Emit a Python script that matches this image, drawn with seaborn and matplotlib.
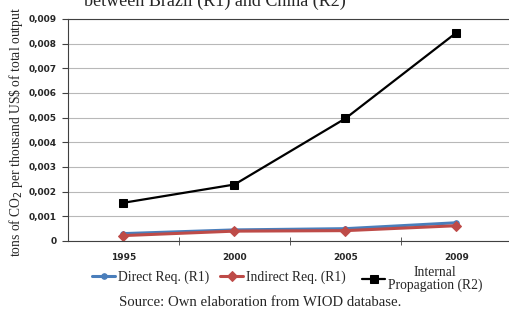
import numpy as np
import pandas as pd
import seaborn as sns
import matplotlib.pyplot as plt
from matplotlib.ticker import FixedLocator, FuncFormatter

years = ["1995", "2000", "2005", "2009"]
direct_r1 = [0.00030, 0.00045, 0.00050, 0.00074]
indirect_r1 = [0.00022, 0.00040, 0.00042, 0.00062]
internal_r2 = [0.00155, 0.00229, 0.00497, 0.00845]
series_names = ["Direct Req. (R1)", "Indirect Req. (R1)", "Internal\nPropagation (R2)"]
y_ticks = [0, 0.001, 0.002, 0.003, 0.004, 0.005, 0.006, 0.007, 0.008, 0.009]

df = pd.DataFrame({
    "year": years * 3,
    "value": direct_r1 + indirect_r1 + internal_r2,
    "series": np.repeat(series_names, len(years)),
})

sns.set_style("white")
plt.rcParams['font.family'] = ['Liberation Serif', 'DejaVu Serif']

fig = plt.figure(figsize=(5.1, 3.15), dpi=100)
ax = fig.add_axes([68 / 510, 1 - 241 / 315, 444 / 510, 222 / 315])

palette = {series_names[0]: "#4a7ebb", series_names[1]: "#be4b48", series_names[2]: "#000000"}
markers = {series_names[0]: "o", series_names[1]: "D", series_names[2]: "s"}
widths = {series_names[0]: 2.2, series_names[1]: 2.2, series_names[2]: 1.6}
msizes = {series_names[0]: 4, series_names[1]: 5.5, series_names[2]: 6}

for name in series_names:
    sub = df[df["series"] == name]
    sns.lineplot(data=sub, x="year", y="value", color=palette[name], marker=markers[name],
                 markersize=msizes[name], linewidth=widths[name],
                 markeredgecolor=palette[name], label=name, ax=ax, sort=False)

ax.set_xlim(-0.5, 3.5)
ax.set_ylim(0, 0.009)
ax.yaxis.set_major_locator(FixedLocator(y_ticks))
ax.yaxis.set_major_formatter(FuncFormatter(lambda v, p: "0" if v == 0 else ("%.3f" % v).replace(".", ",")))
ax.grid(axis="y", color="#b8b8b8", linewidth=0.8)
ax.set_axisbelow(True)
ax.spines["right"].set_visible(False)
for s in ["top", "left", "bottom"]:
    ax.spines[s].set_color("#404040")
ax.tick_params(axis="y", which="major", length=4, direction="out", left=True, color="#404040",
               labelsize=6.5, pad=4)
ax.tick_params(axis="x", which="major", length=0, labelsize=6.5, pad=9)
ax.xaxis.set_minor_locator(FixedLocator([0.5, 1.5, 2.5]))
ax.tick_params(axis="x", which="minor", length=6, direction="inout", bottom=True, color="#404040")
for lab in ax.get_xticklabels() + ax.get_yticklabels():
    lab.set_family("DejaVu Sans")
    lab.set_fontweight("bold")
ax.set_xlabel("")
ax.set_ylabel("tons of CO$_2$ per thousand US\\$ of total output", fontsize=9.8)
ax.yaxis.set_label_coords(-0.097, 0.49)

handles, labels = ax.get_legend_handles_labels()
ax.get_legend().remove()
# one legend per entry, placed where each one sits in the source figure
anchors = [(92, 277), (220, 277), (362, 279)]
for h, l, (x0, y0) in zip(handles, labels, anchors):
    leg = fig.legend([h], [l], loc="center left", bbox_to_anchor=(x0 / 510, 1 - y0 / 315),
                     frameon=False, fontsize=9.8, handlelength=1.7, handletextpad=0.2,
                     borderaxespad=0, borderpad=0)
    for t in leg.get_texts():
        t.set_multialignment("center")
        t.set_linespacing(0.95)

fig.text(260 / 510, 1 - 303 / 315, "Source: Own elaboration from WIOD database.", ha="center", va="center",
         fontsize=10.6)
fig.text(215 / 510, 1 - 6 / 315, "between Brazil (R1) and China (R2)", ha="center", va="baseline", fontsize=13)

fig.savefig("out.png", dpi=100)
